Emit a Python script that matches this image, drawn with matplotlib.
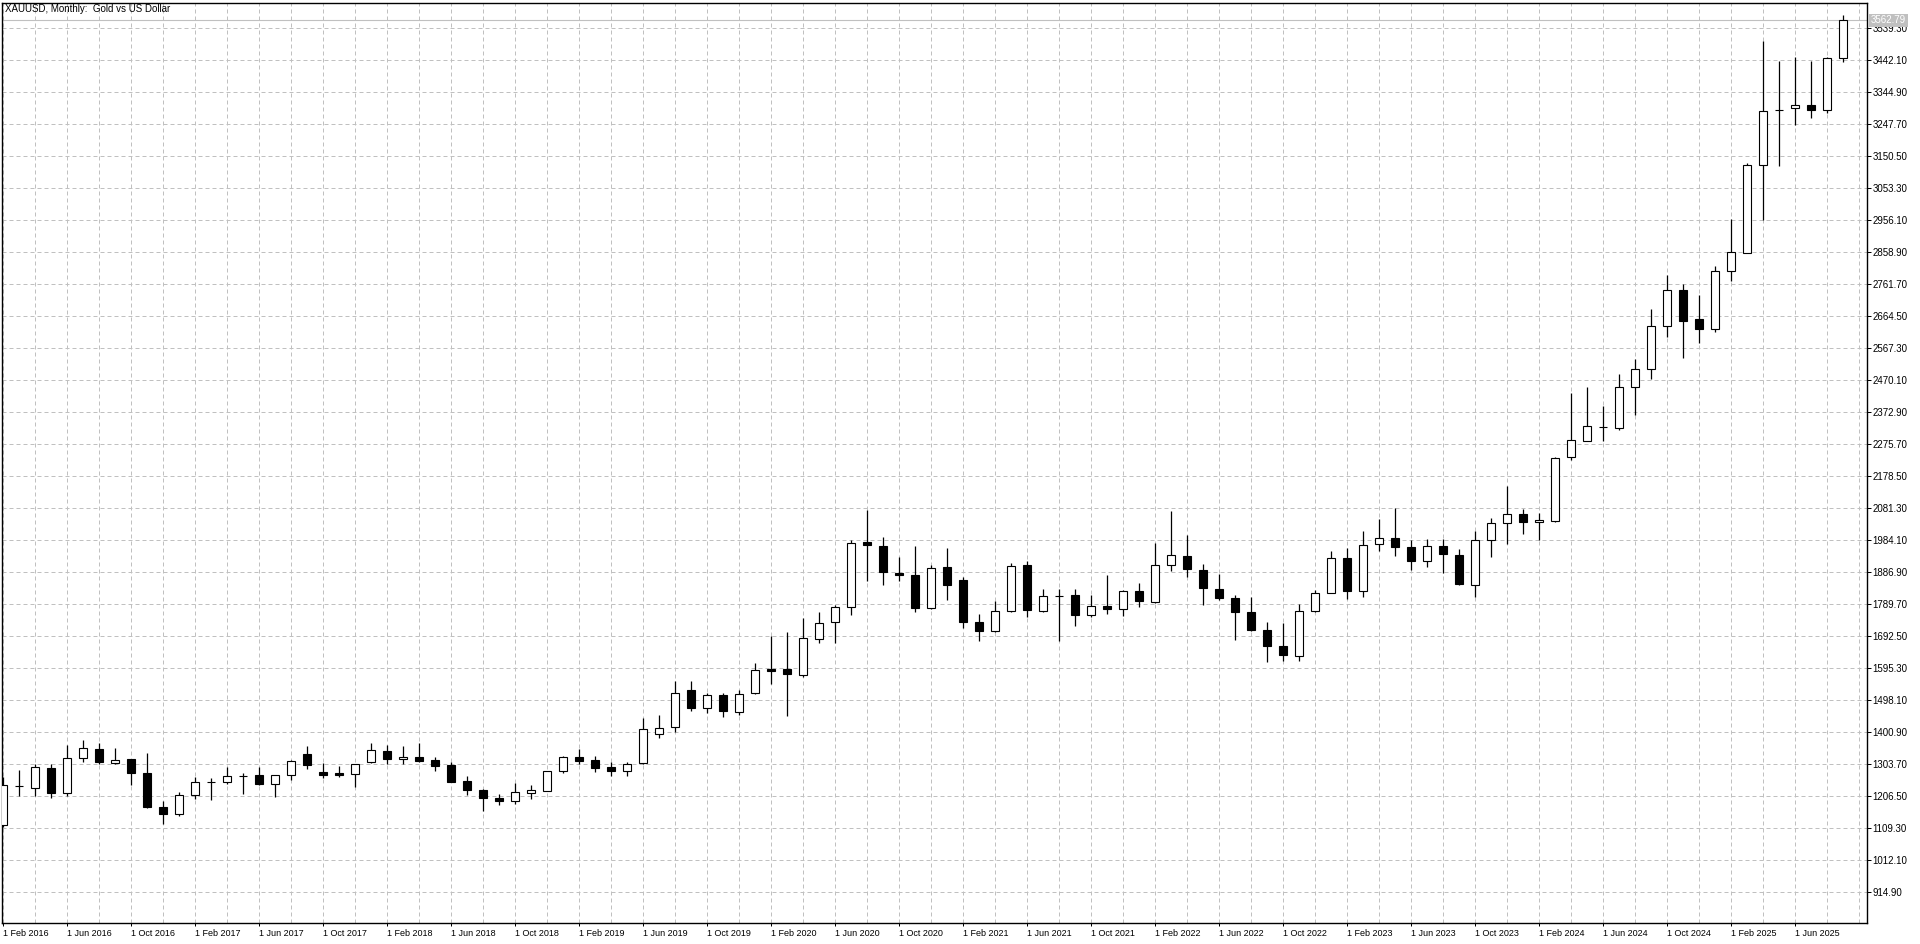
import matplotlib
matplotlib.use('Agg')
import matplotlib.pyplot as plt
import matplotlib.transforms as mtransforms
import pandas as pd
import numpy as np

plt.rcParams['font.family'] = ['Liberation Sans', 'DejaVu Sans']

# ---- data (XAUUSD monthly, Feb 2016 .. Sep 2025) ----
months = pd.date_range('2016-02-01', periods=116, freq='MS')

open_ = [1119, 1237, 1231, 1293, 1215, 1322, 1350, 1308, 1318, 1277, 1173,
         1151, 1209, 1249, 1248, 1268, 1271, 1243, 1269, 1335, 1280, 1275, 1273,
         1309, 1344, 1318, 1326, 1317, 1302, 1253, 1226, 1201, 1191, 1216, 1222,
         1282, 1324, 1315, 1294, 1282, 1308, 1395, 1416, 1530, 1474, 1514, 1462,
         1520, 1593, 1593, 1573, 1683, 1734, 1781, 1978, 1966, 1885, 1878, 1777,
         1902, 1863, 1735, 1707, 1768, 1909, 1768, 1815, 1816, 1757, 1785, 1775,
         1830, 1796, 1909, 1937, 1894, 1836, 1809, 1766, 1712, 1661, 1632, 1768,
         1824, 1929, 1828, 1972, 1990, 1963, 1920, 1967, 1940, 1847, 1984, 2036,
         2062, 2039, 2043, 2236, 2286, 2327, 2325, 2448, 2503, 2634, 2744, 2657,
         2625, 2802, 2856, 3123, 3289, 3296, 3305, 3290, 3448]

high = [1263, 1284, 1303, 1305, 1360, 1378, 1368, 1353, 1319, 1337, 1190,
        1219, 1265, 1262, 1295, 1275, 1296, 1271, 1315, 1359, 1307, 1299, 1305,
        1366, 1362, 1359, 1366, 1326, 1311, 1268, 1227, 1214, 1246, 1239, 1282,
        1327, 1349, 1327, 1310, 1310, 1443, 1454, 1557, 1557, 1520, 1518, 1527,
        1611, 1692, 1706, 1748, 1766, 1788, 1984, 2076, 1993, 1934, 1966, 1908,
        1960, 1873, 1759, 1799, 1914, 1919, 1836, 1834, 1836, 1816, 1879, 1831,
        1855, 1976, 2071, 2000, 1912, 1880, 1816, 1810, 1735, 1731, 1789, 1833,
        1950, 1961, 2010, 2048, 2082, 1984, 1987, 1987, 1958, 2010, 2051, 2147,
        2077, 2066, 2236, 2431, 2449, 2390, 2487, 2534, 2687, 2790, 2763, 2727,
        2817, 2958, 3128, 3501, 3440, 3451, 3440, 3451, 3578]

low = [1111, 1208, 1208, 1200, 1205, 1309, 1303, 1304, 1240, 1170, 1121,
       1146, 1197, 1194, 1244, 1214, 1240, 1203, 1254, 1290, 1260, 1263, 1235,
       1306, 1305, 1304, 1310, 1281, 1248, 1210, 1160, 1178, 1183, 1198, 1221,
       1277, 1304, 1279, 1267, 1267, 1303, 1383, 1401, 1465, 1459, 1446, 1452,
       1516, 1546, 1451, 1569, 1670, 1670, 1755, 1861, 1847, 1859, 1764, 1775,
       1801, 1716, 1677, 1705, 1766, 1750, 1766, 1677, 1723, 1749, 1759, 1753,
       1782, 1792, 1891, 1873, 1787, 1803, 1680, 1709, 1614, 1617, 1617, 1766,
       1823, 1804, 1810, 1950, 1935, 1894, 1903, 1883, 1847, 1810, 1932, 1973,
       2002, 1985, 2039, 2228, 2286, 2286, 2319, 2364, 2472, 2600, 2536, 2583,
       2616, 2771, 2855, 2956, 3119, 3244, 3267, 3280, 3436]

close = [1240, 1236, 1295, 1215, 1322, 1352, 1309, 1316, 1276, 1172, 1151,
         1209, 1249, 1249.5, 1268, 1268.5, 1242, 1271, 1313, 1300, 1269, 1270, 1305,
         1346, 1318, 1326, 1314, 1297, 1250, 1225, 1200, 1191, 1218, 1224, 1281,
         1324, 1313, 1293, 1282, 1305, 1411, 1414, 1520, 1474, 1514, 1465, 1517,
         1590, 1585, 1576, 1686, 1732, 1781, 1975, 1968, 1886, 1878, 1777, 1899,
         1846, 1734, 1707, 1768, 1906, 1770, 1815, 1815.5, 1756, 1785, 1775, 1830,
         1799, 1909, 1940, 1896, 1838, 1808, 1765, 1711, 1662, 1635, 1769, 1824,
         1929, 1828, 1970, 1990, 1963, 1920, 1967, 1941, 1850, 1984, 2036, 2063,
         2040, 2046, 2234, 2288, 2329, 2327.5, 2449, 2503, 2635, 2744, 2649, 2625,
         2801, 2859, 3123, 3288, 3290, 3305, 3290, 3448, 3562.79]

last_price = 3562.79
title = 'XAUUSD, Monthly:  Gold vs US Dollar'
ytick_values = [914.90 + 97.20 * k for k in range(28)]

# ---- figure ----
W, H = 1920, 944
fig = plt.figure(figsize=(W / 100, H / 100), dpi=100)
fig.patch.set_facecolor('white')
ax = fig.add_axes([2 / W, (H - 923) / H, (1867 - 2) / W, (923 - 3) / H])

x = np.arange(len(months))
o = np.array(open_, dtype=float)
c = np.array(close, dtype=float)
hi = np.array(high, dtype=float)
lo = np.array(low, dtype=float)

bull = c >= o
bottoms = np.minimum(o, c)
heights = np.abs(c - o)

ax.vlines(x, lo, hi, color='black', linewidth=0.9, zorder=2)
ax.bar(x[bull], heights[bull], bottom=bottoms[bull], width=0.56,
       facecolor='white', edgecolor='black', linewidth=0.8, zorder=3)
ax.bar(x[~bull], heights[~bull], bottom=bottoms[~bull], width=0.56,
       facecolor='black', edgecolor='black', linewidth=0.8, zorder=3)

# current price line
ax.axhline(last_price, color='#c0c0c0', linewidth=0.8, zorder=1.5)

ax.set_xlim(-0.0625, 116.5)
ax.set_ylim(820.7, 3615.4)

# grid + ticks
ax.set_yticks(ytick_values)
ax.set_yticklabels([f'{v:.2f}' for v in ytick_values])
ax.yaxis.tick_right()
major_x = list(range(0, len(months), 4))
ax.set_xticks(major_x)
ax.set_xticklabels([f'{months[i].day} {months[i].strftime("%b %Y")}' for i in major_x],
                   ha='left')
ax.set_xticks(list(range(0, 117, 2)), minor=True)

ax.set_axisbelow(True)
ax.grid(True, which='both', axis='x', color='#c0c0c0', linestyle=(0, (4, 3)), linewidth=0.72)
ax.grid(True, which='major', axis='y', color='#c0c0c0', linestyle=(0, (4, 3)), linewidth=0.72)

ax.tick_params(axis='y', which='major', direction='out', length=3, width=0.72,
               pad=0.8, labelsize=7, colors='black')
ax.tick_params(axis='x', which='major', direction='out', length=2.5, width=0.72,
               pad=1.5, labelsize=6.5, colors='black')
ax.tick_params(axis='x', which='minor', length=0)

for sp in ax.spines.values():
    sp.set_color('black')
    sp.set_linewidth(1.0)

# title
ax.text(3 / 1865, 1 - 6 / 920, title, transform=ax.transAxes, ha='left', va='center',
        fontsize=7, color='black')

# price label box on the right axis
trans = mtransforms.blended_transform_factory(ax.transAxes, ax.transData)
offset = mtransforms.ScaledTranslation(4 / 100, 0, fig.dpi_scale_trans)
ax.text(1.0, last_price, f'{last_price:.2f}', transform=trans + offset,
        ha='left', va='center', fontsize=7, color='white', zorder=10,
        bbox=dict(facecolor='#c0c0c0', edgecolor='none', pad=1.2), clip_on=False)

fig.savefig('out.png', dpi=100, facecolor='white')
